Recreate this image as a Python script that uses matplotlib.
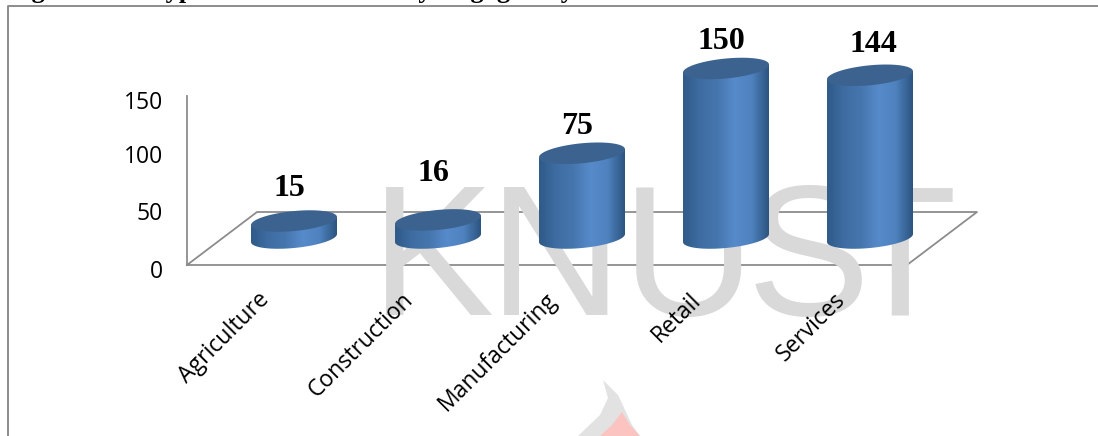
import numpy as np
import matplotlib
matplotlib.use("Agg")
import matplotlib.pyplot as plt
from matplotlib.patches import Polygon
from matplotlib.colors import LinearSegmentedColormap

categories = ["Agriculture", "Construction", "Manufacturing", "Retail", "Services"]
values = [15, 16, 75, 150, 144]
tick_labels = [0, 50, 100, 150]

W, H = 1098, 436
GREY = "#8c8c8c"

# pixels per category / per unit
px_cat = 144.0
px_val = 1.13
x0_px = 294.0
base_px = 238.0
half_w = 43.0
ell_b = 10.0  # half height of the cylinder ends
ell_k = 4.0  # tilt of the ends

# small nudges of the value labels, in pixels
label_dx = [-5, -5, -5, -5, 3]
label_dy = [33, 46, 27, 27, 31]

fig = plt.figure(figsize=(W / 100, H / 100), dpi=100)

# page layer in pixels: watermark, frame, 3d walls
bg = fig.add_axes([0, 0, 1, 1], zorder=0)
bg.set_xlim(0, W)
bg.set_ylim(H, 0)
bg.axis("off")

# faint KNUST watermark
wm = "#d9d9d9"
for ch, xp in zip("KNUST", [432, 556, 688, 808, 900]):
    bg.text(xp, 315, ch, fontsize=133, family=["Liberation Sans Narrow", "Liberation Sans"], color=wm,
            va="baseline", ha="center")

# bit of the crest at the bottom
bg.add_patch(Polygon([[578, 436], [600, 415], [608, 398], [603, 380], [618, 395], [632, 425], [640, 436]],
                     fc="#e2e2e2", ec="none"))
bg.add_patch(Polygon([[600, 436], [612, 425], [622, 412], [630, 425], [640, 436]], fc="#fbc4c0", ec="none"))

# frame and title cut by the top edge
bg.plot([8, 8, W], [H, 6.5, 6.5], color=GREY, lw=1.4, solid_capstyle="butt")
bg.text(8, -2, "Figure 4.12: Type of Business Activity Engaged By", fontsize=19, weight="bold",
        family="Liberation Serif", va="baseline", ha="left", color="black")

# floor and value wall
bg.plot([187, 187, 907, 977, 257, 187], [96, 265, 265, 212, 212, 265], color=GREY, lw=1.3)

for v, yp in zip(tick_labels, [272, 214, 157, 103]):
    bg.text(163, yp, str(v), fontsize=16.5, family="Open Sans", ha="right", va="center", color="black")

# chart layer, positions come from the data scales
ax = fig.add_axes([0, 0, 1, 1], zorder=1)
ax.patch.set_alpha(0)
ax.axis("off")

shade = LinearSegmentedColormap.from_list("cyl", ["#2f5a88", "#3f6da3", "#4676ae", "#568aca", "#4f82bf", "#2c5480"])
grad = np.linspace(0, 1, 128).reshape(1, -1)
bw = half_w / px_cat * 2
t = np.linspace(0, 2 * np.pi, 120)


def ellipse_pts(i, v):
    # tilted ellipse, left end lower than the right one
    ex = i + np.cos(t) * bw / 2
    ey = v + (np.sin(t) * ell_b + np.cos(t) * ell_k) / px_val
    return np.column_stack([ex, ey])


for i, v in enumerate(values):
    left, right = i - bw / 2, i + bw / 2
    im = ax.imshow(grad, extent=[left, right, -30, v + 30], cmap=shade, aspect="auto", zorder=2)

    # side of the cylinder: lower half of base ellipse + top ellipse outline
    base = ellipse_pts(i, 0)
    lower = base[(t >= np.pi) & (t <= 2 * np.pi)]
    side = np.vstack([lower, ellipse_pts(i, v)[0][None, :], ellipse_pts(i, v)[60][None, :]])
    clip = Polygon(side, transform=ax.transData, fc="none", ec="none")
    ax.add_patch(clip)
    im.set_clip_path(clip)

    ax.add_patch(Polygon(ellipse_pts(i, v), fc="#3c638f", ec="none", zorder=3))

    ax.annotate(str(v), (i, v), xytext=(label_dx[i], label_dy[i]), textcoords="offset pixels", ha="center",
                va="center", fontsize=23, weight="bold", family="Liberation Serif", color="black", zorder=4)

    # slanted category label ending below the floor
    ax.annotate(categories[i], (i, 0), xytext=(-37, -50), textcoords="offset pixels", rotation=45,
                rotation_mode="anchor", ha="right", va="top", fontsize=16.5, family="Open Sans", color="black",
                zorder=4)

ax.set_xlim(-x0_px / px_cat, (W - x0_px) / px_cat)
ax.set_ylim(-(H - base_px) / px_val, base_px / px_val)

fig.savefig("out.png", dpi=100)
